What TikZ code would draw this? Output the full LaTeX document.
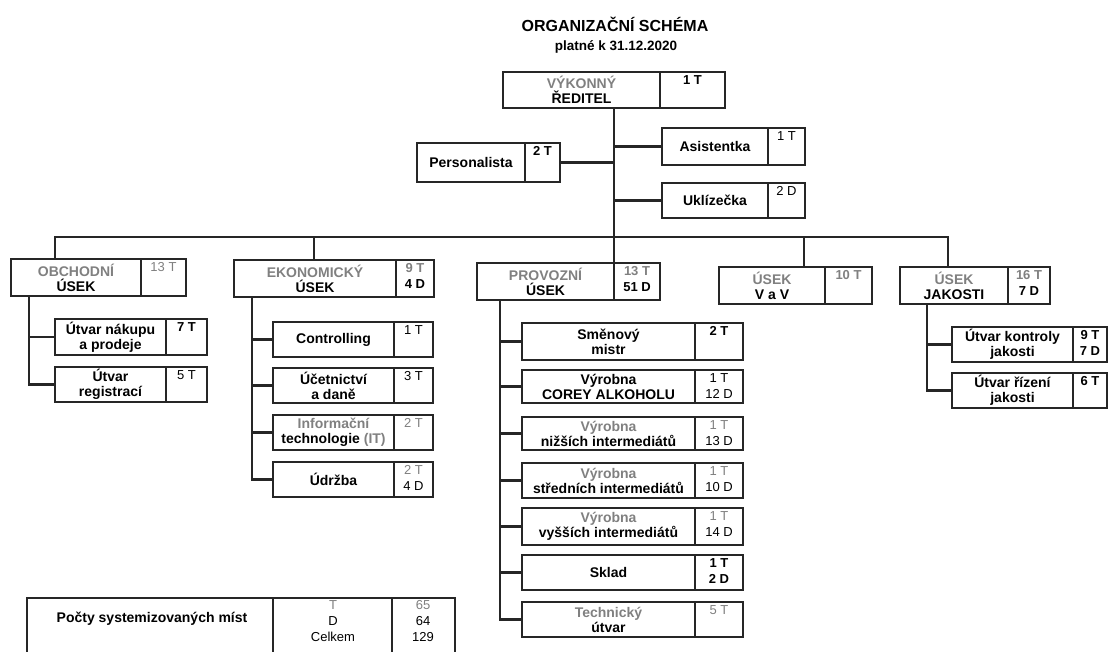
\documentclass[tikz,border=0pt]{standalone}
\usepackage{fontspec}
\setmainfont{Liberation Sans}
\usetikzlibrary{calc}
\tikzset{
  box/.style={draw=black!85, line width=1.6pt, inner sep=0pt, outer sep=0pt, rectangle},
  divider/.style={draw=black!85, line width=1.5pt},
  conn/.style={draw=black!85, line width=2.3pt},
  lbl/.style={font=\fontsize{14}{15}\selectfont\bfseries, align=center, inner sep=0pt},
  num/.style={font=\fontsize{13}{15.5}\selectfont, align=center, inner sep=0pt},
  bnum/.style={font=\fontsize{13}{15.5}\selectfont\bfseries, align=center, inner sep=0pt},
  fnum/.style={num, text=black!50},
  fbnum/.style={bnum, text=black!50},
}
\newcommand{\faded}[1]{\textcolor{black!50}{#1}}
% name, x1, y1, xdiv, x2, y2, label, number, number style
\newcommand{\orgbox}[9]{%
  \node[box, minimum width={(#5-#2)*1pt}, minimum height={(#6-#3)*1pt}, anchor=north west] (#1) at (#2,#3) {};
  \draw[divider] (#4,#3) -- (#4,#6);
  \node[lbl] (#1t) at ({(#2+#4)/2},{(#3+#6)/2}) {#7};
  \node[#9, anchor=north] (#1n) at ({(#4+#5)/2},{#3+3.5}) {#8};
}
\begin{document}
\begin{tikzpicture}[x=1pt,y=-1pt]
\useasboundingbox (0,0) rectangle (1110,651);
\clip (0,0) rectangle (1110,651);

% titles
\node[font=\fontsize{16}{18}\selectfont\bfseries, inner sep=0pt] (title) at (615,24) {ORGANIZAČNÍ SCHÉMA};
\node[font=\fontsize{13.5}{15}\selectfont\bfseries, inner sep=0pt] (subtitle) at (616,47) {platné k 31.12.2020};

% top level
\orgbox{dir}{503}{72}{660}{725}{108}{\faded{VÝKONNÝ}\\ŘEDITEL}{1 T}{bnum}
\orgbox{pers}{417}{143}{525}{560}{182}{Personalista}{2 T}{bnum}
\orgbox{asis}{662}{128}{768}{805}{165}{Asistentka}{1 T}{num}
\orgbox{ukl}{662}{183}{768}{805}{218}{Uklízečka}{2 D}{num}

% departments
\orgbox{obch}{11}{259}{141}{186}{296}{\faded{OBCHODNÍ}\\ÚSEK}{13 T}{fnum}
\orgbox{ekon}{234}{260}{396}{434}{297}{\faded{EKONOMICKÝ}\\ÚSEK}{\faded{9 T}\\4 D}{bnum}
\orgbox{prov}{477}{263}{614}{660}{300}{\faded{PROVOZNÍ}\\ÚSEK}{\faded{13 T}\\51 D}{bnum}
\orgbox{vav}{719}{267}{825}{872}{304}{\faded{ÚSEK}\\V a V}{10 T}{fbnum}
\orgbox{jak}{900}{267}{1008}{1050}{304}{\faded{ÚSEK}\\JAKOSTI}{\faded{16 T}\\7 D}{bnum}

% obchodni
\orgbox{nak}{55}{319}{166}{207}{355}{Útvar nákupu\\a prodeje}{7 T}{bnum}
\orgbox{reg}{55}{367}{166}{207}{402}{Útvar\\registrací}{5 T}{num}

% ekonomicky
\orgbox{ctrl}{273}{322}{394}{433}{357}{Controlling}{1 T}{num}
\orgbox{uct}{273}{368}{394}{433}{403}{Účetnictví\\a daně}{3 T}{num}
\orgbox{it}{273}{415}{394}{433}{450}{\faded{Informační}\\technologie \faded{(IT)}}{2 T}{fnum}
\orgbox{udr}{273}{462}{394}{433}{497}{Údržba}{\faded{2 T}\\4 D}{num}

% provozni
\orgbox{smen}{522}{323}{695}{743}{360}{Směnový\\mistr}{2 T}{bnum}
\orgbox{corey}{522}{370}{695}{743}{403}{Výrobna\\COREY ALKOHOLU}{1 T\\12 D}{num}
\orgbox{nizsi}{522}{417}{695}{743}{450}{\faded{Výrobna}\\nižších intermediátů}{\faded{1 T}\\13 D}{num}
\orgbox{stred}{522}{463}{695}{743}{498}{\faded{Výrobna}\\středních intermediátů}{\faded{1 T}\\10 D}{num}
\orgbox{vyssi}{522}{508}{695}{743}{545}{\faded{Výrobna}\\vyšších intermediátů}{\faded{1 T}\\14 D}{num}
\orgbox{sklad}{522}{555}{695}{743}{590}{Sklad}{1 T\\2 D}{bnum}
\orgbox{tech}{522}{602}{695}{743}{637}{\faded{Technický}\\útvar}{5 T}{fnum}

% jakosti
\orgbox{kontr}{952}{327}{1073}{1107}{362}{Útvar kontroly\\jakosti}{9 T\\7 D}{bnum}
\orgbox{rizeni}{952}{373}{1073}{1107}{408}{Útvar řízení\\jakosti}{6 T}{bnum}

% connectors: director trunk and staff
\draw[conn] (dir.south) -- (dir.south |- prov.north);
\draw[conn] (pers.east) -- (pers.east -| dir.south);
\draw[conn] (asis.west) -- (asis.west -| dir.south);
\draw[conn] (ukl.west) -- (ukl.west -| dir.south);

% bus
\coordinate (busL) at (55,237);
\coordinate (dE) at (314,237);
\coordinate (dV) at (804,237);
\coordinate (busR) at (948,237);
\draw[conn] (busL |- obch.north) -- (busL) -- (busR) -- (busR |- jak.north);
\draw[conn] (dE) -- (dE |- ekon.north);
\draw[conn] (dV) -- (dV |- vav.north);

% department branches
\coordinate (bO) at (29,296);
\coordinate (bE) at (252,297);
\coordinate (bP) at (500,300);
\coordinate (bJ) at (927,304);
\draw[conn] (bO) |- (nak.west);
\draw[conn] (bO) |- (reg.west);
\draw[conn] (bE) |- (ctrl.west);
\draw[conn] (bE) |- (uct.west);
\draw[conn] (bE) |- (it.west);
\draw[conn] (bE) |- (udr.west);
\draw[conn] (bP) |- (smen.west);
\draw[conn] (bP) |- (corey.west);
\draw[conn] (bP) |- (nizsi.west);
\draw[conn] (bP) |- (stred.west);
\draw[conn] (bP) |- (vyssi.west);
\draw[conn] (bP) |- (sklad.west);
\draw[conn] (bP) |- (tech.west);
\draw[conn] (bJ) |- (kontr.west);
\draw[conn] (bJ) |- (rizeni.west);

% summary table
\node[box, minimum width=428pt, minimum height=62pt, anchor=north west] (tab) at (27,598) {};
\draw[divider] (273,598) -- (273,660);
\draw[divider] (392,598) -- (392,660);
\node[lbl] (tabt) at (152,619) {Počty systemizovaných míst};
\node[num, text=black!50] (tT) at (333,605) {T};
\node[num] (tD) at (333,621) {D};
\node[num] (tC) at (333,637) {Celkem};
\node[num, text=black!50] (v65) at (423,605) {65};
\node[num] (v64) at (423,621) {64};
\node[num] (v129) at (423,637) {129};
\end{tikzpicture}
\end{document}
